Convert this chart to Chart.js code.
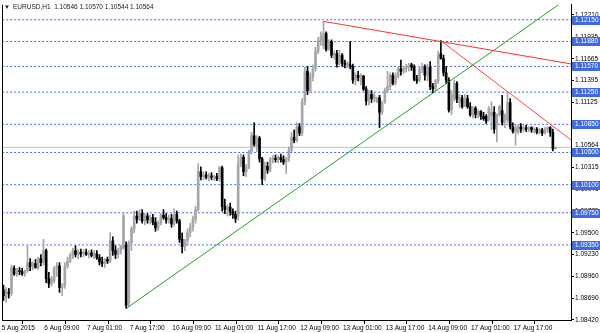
<!DOCTYPE html>
<html>
<head>
<meta charset="utf-8">
<script src="https://cdn.jsdelivr.net/npm/chart.js@4.4.1/dist/chart.umd.min.js"></script>
<style>
  html, body { margin: 0; padding: 0; background: #fff; }
  canvas { display: block; }
</style>
</head>
<body>
<canvas id="chart" width="600" height="333"></canvas>
<script>
// EURUSD H1, one entry per hourly bar (5 Aug 17:00 .. 18 Aug 08:00)
const opens = [
  1.0879,1.0869,1.0876,1.0875,1.0906,1.0899,1.0903,1.0902,1.0899,1.0903,
  1.0913,1.0908,1.0912,1.0907,1.0918,1.0913,1.0928,1.0893,1.0887,1.0891,
  1.0906,1.0909,1.0882,1.0885,1.0909,1.0915,1.0922,1.0928,1.0923,1.0926,
  1.0924,1.0926,1.0923,1.0925,1.0922,1.0924,1.0919,1.0914,1.0912,1.0917,
  1.0915,1.0940,1.0928,1.0923,1.0928,1.0931,1.0935,1.0863,1.0938,1.0955,
  1.0971,1.0967,1.0974,1.0965,1.0971,1.0966,1.0969,1.0963,1.0956,1.0962,
  1.0972,1.0969,1.0966,1.0968,1.0961,1.0973,1.0965,1.0942,1.0933,1.0940,
  1.0950,1.0957,1.0967,1.0979,1.1026,1.1020,1.1022,1.1019,1.1021,1.1019,
  1.1020,1.1017,1.1031,1.0983,1.0979,1.0982,1.0976,1.0973,1.0971,1.1036,
  1.1044,1.1026,1.1032,1.1051,1.1071,1.1057,1.1068,1.1042,1.1017,1.1033,
  1.1028,1.1041,1.1043,1.1041,1.1044,1.1041,1.1038,1.1042,1.1053,1.1069,
  1.1065,1.1082,1.1074,1.1112,1.1151,1.1127,1.1144,1.1154,1.1176,1.1189,
  1.1182,1.1198,1.1179,1.1188,1.1171,1.1173,1.1161,1.1171,1.1161,1.1159,
  1.1159,1.1157,1.1140,1.1146,1.1139,1.1145,1.1129,1.1114,1.1122,1.1117,
  1.1114,1.1118,1.1100,1.1113,1.1127,1.1132,1.1146,1.1136,1.1145,1.1154,
  1.1151,1.1154,1.1157,1.1159,1.1156,1.1141,1.1140,1.1154,1.1156,1.1146,
  1.1156,1.1132,1.1129,1.1139,1.1173,1.1167,1.1149,1.1140,1.1103,1.1118,
  1.1136,1.1112,1.1118,1.1109,1.1117,1.1107,1.1096,1.1105,1.1097,1.1101,
  1.1095,1.1095,1.1091,1.1096,1.1100,1.1085,1.1097,1.1102,1.1090,1.1090,
  1.1112,1.1082,1.1076,1.1075,1.1082,1.1079,1.1081,1.1079,1.1081,1.1078,
  1.1079,1.1075,1.1078,1.1074,1.1079,1.1081,1.1075,1.10546
];
const highs = [
  1.0885,1.0882,1.0881,1.0910,1.0909,1.0906,1.0907,1.0906,1.0904,1.0934,
  1.0918,1.0914,1.0917,1.0920,1.0923,1.0942,1.0930,1.0901,1.0896,1.0908,
  1.0913,1.0913,1.0887,1.0913,1.0920,1.0925,1.0931,1.0934,1.0929,1.0930,
  1.0929,1.0930,1.0928,1.0929,1.0928,1.0928,1.0923,1.0920,1.0918,1.0920,
  1.0950,1.0945,1.0934,1.0931,1.0935,1.0974,1.0939,1.0940,1.0958,1.0977,
  1.0977,1.0979,1.0979,1.0974,1.0974,1.0972,1.0973,1.0969,1.0965,1.0974,
  1.0979,1.0974,1.0972,1.0973,1.0980,1.0977,1.0967,1.0950,1.0942,1.0955,
  1.0962,1.0971,1.0983,1.1036,1.1032,1.1026,1.1026,1.1024,1.1025,1.1022,
  1.1024,1.1033,1.1033,1.0992,1.0985,1.0987,1.0980,1.0977,1.1047,1.1048,
  1.1047,1.1035,1.1053,1.1075,1.1087,1.1071,1.1070,1.1044,1.1038,1.1038,
  1.1044,1.1046,1.1047,1.1046,1.1048,1.1046,1.1044,1.1057,1.1075,1.1078,
  1.1087,1.1086,1.1117,1.1156,1.1157,1.1149,1.1159,1.1181,1.1193,1.1200,
  1.1213,1.1200,1.1190,1.1190,1.1176,1.1177,1.1177,1.1173,1.1165,1.1163,
  1.1188,1.1160,1.1149,1.1151,1.1148,1.1146,1.1132,1.1127,1.1127,1.1124,
  1.1119,1.1121,1.1114,1.1130,1.1151,1.1149,1.1149,1.1149,1.1156,1.1165,
  1.1157,1.1160,1.1161,1.1161,1.1159,1.1146,1.1157,1.1161,1.1159,1.1160,
  1.1163,1.1136,1.1141,1.1176,1.1189,1.1171,1.1157,1.1143,1.1127,1.1140,
  1.1138,1.1122,1.1121,1.1122,1.1121,1.1112,1.1107,1.1107,1.1103,1.1102,
  1.1100,1.1097,1.1107,1.1113,1.1107,1.1098,1.1109,1.1121,1.1098,1.1125,
  1.1117,1.1087,1.1085,1.1085,1.1086,1.1085,1.1084,1.1082,1.1082,1.1081,
  1.1081,1.1080,1.1080,1.1081,1.1082,1.1082,1.1079,1.10570
];
const lows = [
  1.0866,1.0864,1.0869,1.0872,1.0897,1.0896,1.0898,1.0897,1.0896,1.0901,
  1.0903,1.0904,1.0906,1.0904,1.0909,1.0910,1.0888,1.0882,1.0884,1.0888,
  1.0896,1.0876,1.0872,1.0881,1.0906,1.0913,1.0918,1.0920,1.0918,1.0920,
  1.0920,1.0922,1.0919,1.0920,1.0918,1.0917,1.0910,1.0908,1.0907,1.0912,
  1.0913,1.0922,1.0918,1.0919,1.0924,1.0930,1.0856,1.0859,1.0928,1.0950,
  1.0962,1.0965,1.0962,1.0960,1.0962,1.0961,1.0960,1.0952,1.0953,1.0960,
  1.0967,1.0962,1.0962,1.0957,1.0958,1.0962,1.0938,1.0925,1.0928,1.0935,
  1.0945,1.0952,1.0962,1.0977,1.1016,1.1016,1.1017,1.1015,1.1016,1.1015,
  1.1015,1.1014,1.0977,1.0974,1.0971,1.0972,1.0968,1.0963,1.0966,1.1032,
  1.1021,1.1020,1.1030,1.1048,1.1058,1.1051,1.1038,1.1010,1.1015,1.1024,
  1.1026,1.1037,1.1038,1.1037,1.1038,1.1035,1.1024,1.1039,1.1051,1.1062,
  1.1063,1.1071,1.1071,1.1109,1.1122,1.1124,1.1139,1.1151,1.1173,1.1183,
  1.1179,1.1176,1.1177,1.1168,1.1166,1.1156,1.1159,1.1157,1.1155,1.1155,
  1.1154,1.1136,1.1134,1.1139,1.1134,1.1127,1.1109,1.1109,1.1112,1.1113,
  1.1112,1.1081,1.1097,1.1111,1.1124,1.1128,1.1134,1.1134,1.1143,1.1146,
  1.1148,1.1150,1.1151,1.1152,1.1139,1.1136,1.1138,1.1149,1.1140,1.1139,
  1.1128,1.1124,1.1127,1.1136,1.1166,1.1145,1.1136,1.1100,1.1097,1.1114,
  1.1112,1.1106,1.1105,1.1107,1.1105,1.1095,1.1093,1.1093,1.1093,1.1091,
  1.1090,1.1086,1.1089,1.1078,1.1074,1.1063,1.1095,1.1084,1.1081,1.1087,
  1.1079,1.1074,1.1059,1.1073,1.1075,1.1076,1.1076,1.1076,1.1075,1.1074,
  1.1073,1.1073,1.1071,1.1073,1.1075,1.1070,1.1052,1.10544
];
const closes = [
  1.0872,1.0879,1.0875,1.0906,1.0899,1.0903,1.0902,1.0899,1.0903,1.0913,
  1.0908,1.0912,1.0907,1.0918,1.0913,1.0928,1.0893,1.0887,1.0893,1.0906,
  1.0909,1.0882,1.0885,1.0909,1.0915,1.0922,1.0928,1.0923,1.0926,1.0924,
  1.0926,1.0923,1.0925,1.0922,1.0924,1.0919,1.0914,1.0912,1.0917,1.0915,
  1.0940,1.0928,1.0923,1.0928,1.0934,1.0971,1.0860,1.0938,1.0955,1.0971,
  1.0967,1.0974,1.0965,1.0971,1.0966,1.0969,1.0963,1.0956,1.0962,1.0972,
  1.0969,1.0966,1.0968,1.0961,1.0973,1.0965,1.0942,1.0933,1.0940,1.0950,
  1.0957,1.0967,1.0979,1.1026,1.1020,1.1022,1.1019,1.1021,1.1019,1.1020,
  1.1017,1.1031,1.0983,1.0979,1.0982,1.0976,1.0973,1.0968,1.1036,1.1044,
  1.1026,1.1032,1.1051,1.1071,1.1060,1.1068,1.1042,1.1017,1.1033,1.1028,
  1.1041,1.1043,1.1041,1.1044,1.1041,1.1038,1.1042,1.1053,1.1069,1.1065,
  1.1082,1.1074,1.1112,1.1151,1.1127,1.1144,1.1154,1.1176,1.1189,1.1195,
  1.1198,1.1178,1.1188,1.1171,1.1173,1.1160,1.1171,1.1161,1.1159,1.1161,
  1.1157,1.1140,1.1146,1.1143,1.1145,1.1129,1.1114,1.1122,1.1117,1.1121,
  1.1118,1.1100,1.1112,1.1127,1.1132,1.1146,1.1136,1.1145,1.1154,1.1151,
  1.1154,1.1157,1.1159,1.1156,1.1141,1.1139,1.1154,1.1156,1.1146,1.1156,
  1.1132,1.1129,1.1139,1.1171,1.1167,1.1149,1.1140,1.1103,1.1122,1.1136,
  1.1116,1.1118,1.1107,1.1117,1.1107,1.1097,1.1105,1.1097,1.1101,1.1095,
  1.1092,1.1089,1.1105,1.1100,1.1079,1.1097,1.1107,1.1087,1.1096,1.1112,
  1.1082,1.1076,1.1081,1.1082,1.1079,1.1081,1.1079,1.1081,1.1078,1.1079,
  1.1075,1.1078,1.1074,1.1079,1.1081,1.1075,1.10546,1.10564
];

// time labels, one every 16 bars
const xTickLabels = ['5 Aug 2015', '6 Aug 09:00', '7 Aug 01:00', '7 Aug 17:00', '10 Aug 09:00',
  '11 Aug 01:00', '11 Aug 17:00', '12 Aug 09:00', '13 Aug 01:00', '13 Aug 17:00',
  '14 Aug 09:00', '17 Aug 01:00', '17 Aug 17:00'];
const yTickValues = [1.0842, 1.0869, 1.0896, 1.0923, 1.0950, 1.09775, 1.10045, 1.10315,
  1.10585, 1.10855, 1.11125, 1.11395, 1.11665, 1.11935, 1.1221];

// horizontal levels (dashed blue) and trend lines [bar, price]
const levels = [1.1215, 1.1188, 1.1157, 1.1125, 1.1085, 1.1050, 1.1010, 1.0975, 1.0935];
const trendGreen = [[46, 1.0856], [213, 1.1245]];
const trendRed1 = [[120, 1.1213], [213, 1.1160]];
const trendRed2 = [[164, 1.1189], [213, 1.1065]];

const FONT = 'Liberation Sans, Arial, sans-serif';
const LEVEL_BLUE = 'rgb(65,105,225)';
const lastPrice = closes[closes.length - 1];
const idx = opens.map((_, i) => i);
const candleColor = idx.map(i => closes[i] >= opens[i] ? '#a6a6a6' : '#000000');

function lineSet(points, color, order, dash) {
  return {
    type: 'line',
    data: points.map(p => ({ x: p[0], y: p[1] })),
    borderColor: color,
    borderWidth: 1,
    borderDash: dash || [],
    pointRadius: 0,
    tension: 0,
    order: order
  };
}

const datasets = [];
levels.forEach(lv => datasets.push(lineSet([[-2, lv], [215, lv]], LEVEL_BLUE, 20, [2, 2])));
datasets.push(lineSet([[-2, lastPrice], [215, lastPrice]], '#c0c0c0', 19));
// wicks then bodies
datasets.push({
  type: 'bar',
  data: idx.map(i => ({ x: i, y: [lows[i], highs[i]] })),
  backgroundColor: candleColor,
  barThickness: 1,
  grouped: false,
  order: 6
});
datasets.push({
  type: 'bar',
  data: idx.map(i => ({ x: i, y: [opens[i], closes[i]] })),
  backgroundColor: candleColor,
  barThickness: 2,
  minBarLength: 1,
  grouped: false,
  order: 5
});
datasets.push(lineSet(trendGreen, 'rgb(40,160,40)', 2));
datasets.push(lineSet(trendRed1, 'rgb(255,50,50)', 1));
datasets.push(lineSet(trendRed2, 'rgb(255,70,70)', 1));

// frame, price tags and the symbol caption
const decor = {
  id: 'decor',
  afterDraw(chart) {
    const ctx = chart.ctx;
    const area = chart.chartArea;
    const ys = chart.scales.y;
    ctx.save();
    ctx.strokeStyle = '#000';
    ctx.lineWidth = 1;
    ctx.beginPath();
    ctx.moveTo(area.left + 0.5, area.top);
    ctx.lineTo(area.left + 0.5, area.bottom);
    ctx.stroke();

    ctx.font = '6.5px ' + FONT;
    ctx.textBaseline = 'middle';
    ctx.textAlign = 'left';
    // bid tag first, the level tags sit on top of it
    const py = Math.round(ys.getPixelForValue(lastPrice));
    ctx.fillStyle = '#fff';
    ctx.fillRect(area.right + 1, py - 7, 600 - area.right - 1, 9);
    ctx.fillStyle = '#000';
    ctx.fillText(lastPrice.toFixed(5), area.right + 4, py - 2);
    levels.forEach(lv => {
      const y = Math.round(ys.getPixelForValue(lv));
      ctx.fillStyle = LEVEL_BLUE;
      ctx.fillRect(area.right + 1, y - 4, 600 - area.right - 1, 9);
      ctx.fillStyle = '#fff';
      ctx.fillText(lv.toFixed(5), area.right + 4, y + 0.5);
    });

    const n = opens.length - 1;
    ctx.fillStyle = '#222';
    ctx.font = '6px ' + FONT;
    ctx.fillText('\u25BC', 4, 7);
    ctx.font = '6.5px ' + FONT;
    ctx.fillText('EURUSD,H1  ' + [opens[n], highs[n], lows[n], closes[n]].map(v => v.toFixed(5)).join(' '), 13, 7);
    ctx.restore();
  }
};

new Chart(document.getElementById('chart'), {
  type: 'bar',
  data: { datasets: datasets },
  plugins: [decor],
  options: {
    responsive: false,
    animation: false,
    events: [],
    layout: { padding: { left: 2, top: 1, right: 0, bottom: 0 } },
    plugins: { legend: { display: false }, tooltip: { enabled: false } },
    scales: {
      x: {
        type: 'linear',
        min: -0.56,
        max: 212.8,
        offset: false,
        afterBuildTicks: s => { s.ticks = xTickLabels.map((_, i) => ({ value: i * 16 - 0.7 })); },
        afterFit: s => { s.height = 13; },
        ticks: {
          autoSkip: false,
          maxRotation: 0,
          align: 'start',
          padding: 0,
          color: '#000',
          font: { family: FONT, size: 6.5 },
          callback: (v, i) => xTickLabels[i]
        },
        grid: { drawOnChartArea: false, tickLength: 4, color: '#000' },
        border: { color: '#000' }
      },
      y: {
        position: 'right',
        min: 1.08417,
        max: 1.12335,
        afterBuildTicks: s => { s.ticks = yTickValues.map(v => ({ value: v })); },
        afterFit: s => { s.width = 29; },
        ticks: {
          autoSkip: false,
          padding: 1,
          color: '#000',
          font: { family: FONT, size: 6.5 },
          callback: v => v.toFixed(5)
        },
        grid: { drawOnChartArea: false, tickLength: 3, color: '#000' },
        border: { color: '#000' }
      }
    }
  }
});
</script>
</body>
</html>
